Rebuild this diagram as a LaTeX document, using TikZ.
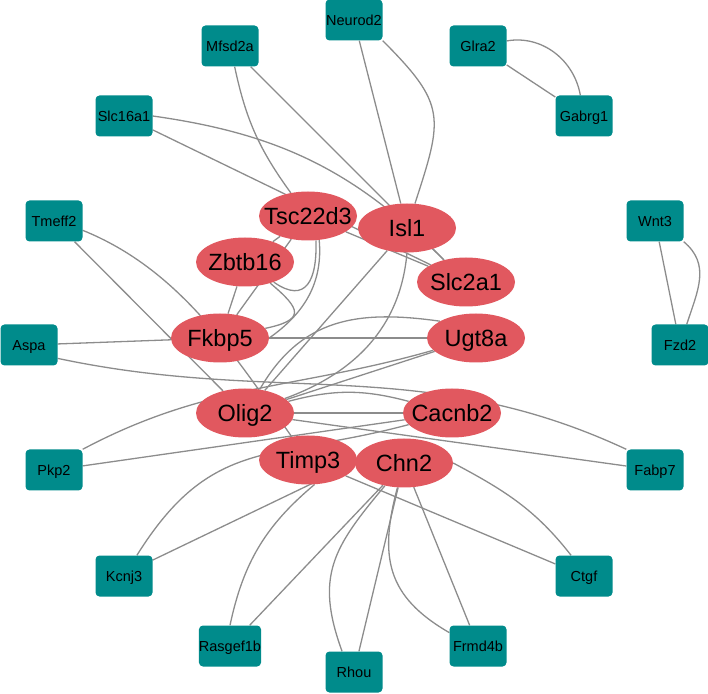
\documentclass[tikz,border=0pt]{standalone}
\usepackage{fontspec}
\setmainfont{Liberation Sans}
\usetikzlibrary{shapes.geometric,backgrounds}
\definecolor{geneteal}{RGB}{0,139,139}
\definecolor{hubred}{RGB}{225,88,95}
\definecolor{linkgray}{RGB}{140,140,140}
\tikzset{
  gene/.style={rectangle,rounded corners=4pt,fill=geneteal,minimum width=57pt,minimum height=41pt,inner sep=0pt,
    text height=10.4pt,text depth=0pt,font=\fontsize{14.5}{14.5}\selectfont},
  hubtext/.style={inner sep=0pt,text height=16.8pt,text depth=0pt,font=\fontsize{23.5}{23.5}\selectfont},
  hub/.style={ellipse,fill=hubred,minimum width=98pt,minimum height=49pt,inner sep=0pt,label={[hubtext]center:#1}},
  link/.style={draw=linkgray,line width=1.3pt}
}

\begin{document}
\begin{tikzpicture}[x=1pt,y=1pt]
        \useasboundingbox (0,0) rectangle (708,693);
        % outer ring
        \node[gene] (neurod2) at (354,673) {Neurod2};
        \node[gene] (mfsd2a) at (230,647) {Mfsd2a};
        \node[gene] (glra2) at (478,647) {Glra2};
        \node[gene] (slcsix) at (124,577) {Slc16a1};
        \node[gene] (gabrg1) at (584,577) {Gabrg1};
        \node[gene] (tmeff2) at (54,472) {Tmeff2};
        \node[gene] (wnt3) at (655,472) {Wnt3};
        \node[gene] (aspa) at (29,348) {Aspa};
        \node[gene] (fzd2) at (680,348) {Fzd2};
        \node[gene] (pkp2) at (54,223) {Pkp2};
        \node[gene] (fabp7) at (655,223) {Fabp7};
        \node[gene] (kcnj3) at (124,117) {Kcnj3};
        \node[gene] (ctgf) at (584,117) {Ctgf};
        \node[gene] (rasgef1b) at (230,47) {Rasgef1b};
        \node[gene] (frmd4b) at (478,47) {Frmd4b};
        \node[gene] (rhou) at (354,21) {Rhou};
        % hubs
        \node[hub=Tsc22d3] (tsc) at (308,477) {};
        \node[hub=Isl1] (isl1) at (407,465) {};
        \node[hub=Zbtb16] (zbtb) at (245,431) {};
        \node[hub=Slc2a1] (slctwo) at (466,411) {};
        \node[hub=Fkbp5] (fkbp5) at (220,355) {};
        \node[hub=Ugt8a] (ugt8a) at (476,355) {};
        \node[hub=Olig2] (olig2) at (245,280) {};
        \node[hub=Cacnb2] (cacnb2) at (452,280) {};
        \node[hub=Timp3] (timp3) at (308,233) {};
        \node[hub=Chn2] (chn2) at (404,230) {};
        % links
        \begin{scope}[on background layer]
        \draw[link] (glra2) -- (gabrg1);
        \draw[link] (glra2.10) to[out=10,in=100] (gabrg1);
        \draw[link] (wnt3) -- (fzd2);
        \draw[link] (wnt3.south east) to[out=-40,in=72,looseness=1.1] (fzd2);
        \draw[link] (neurod2) -- (isl1);
        \draw[link] (neurod2.south east) to[out=-45,in=72,looseness=1.4] (isl1);
        \draw[link] (mfsd2a) to[bend right=12] (tsc);
        \draw[link] (mfsd2a) -- (slctwo);
        \draw[link] (slcsix) -- (slctwo);
        \draw[link] (slcsix.east) to[out=-8,in=135] (slctwo);
        \draw[link] (tsc) -- (slctwo);
        \draw[link] (tmeff2) -- (olig2);
        \draw[link] (tmeff2.342) to[out=-22,in=125,looseness=0.9] (timp3);
        \draw[link] (aspa) -- (fkbp5);
        \draw[link] (fkbp5) -- (ugt8a);
        \draw[link] (aspa.335) to[out=-12,in=155] (fabp7.north west);
        \draw[link] (pkp2.north east) to[out=28,in=196] (ugt8a);
        \draw[link] (pkp2) -- (cacnb2);
        \draw[link] (kcnj3) to[out=58,in=195,looseness=1.2] (cacnb2);
        \draw[link] (kcnj3.29) -- (chn2.west);
        \draw[link] (rasgef1b.north) to[out=78,in=220] (timp3.285);
        \draw[link] (rasgef1b) -- (chn2);
        \draw[link] (rhou.120) to[out=110,in=230,looseness=1.2] (chn2);
        \draw[link] (rhou) -- (chn2);
        \draw[link] (frmd4b) -- (chn2);
        \draw[link] (frmd4b.155) to[out=150,in=255,looseness=1.2] (chn2);
        \draw[link] (ctgf.122) to[out=128,in=-28] (chn2.east);
        \draw[link] (ctgf) -- (timp3);
        \draw[link] (fabp7) -- (olig2);
        \draw[link] (tsc) -- (zbtb);
        \draw[link] (tsc.288) to[out=-88,in=-35,looseness=1.7] (zbtb);
        \draw[link] (zbtb) -- (fkbp5);
        \draw[link] (zbtb) to[out=-40,in=12,looseness=2.3] (fkbp5);
        \draw[link] (tsc) -- (fkbp5);
        \draw[link] (tsc.295) to[out=-85,in=35] (fkbp5.east);
        \draw[link] (isl1) -- (olig2);
        \draw[link] (isl1.south) to[out=-95,in=20] (olig2);
        \draw[link] (olig2) -- (ugt8a);
        \draw[link] (olig2.58) to[out=60,in=172,looseness=1.1] (ugt8a.155);
        \draw[link] (olig2) -- (cacnb2);
        \draw[link] (olig2) to[bend left=15] (cacnb2);
        \end{scope}
\end{tikzpicture}
\end{document}
